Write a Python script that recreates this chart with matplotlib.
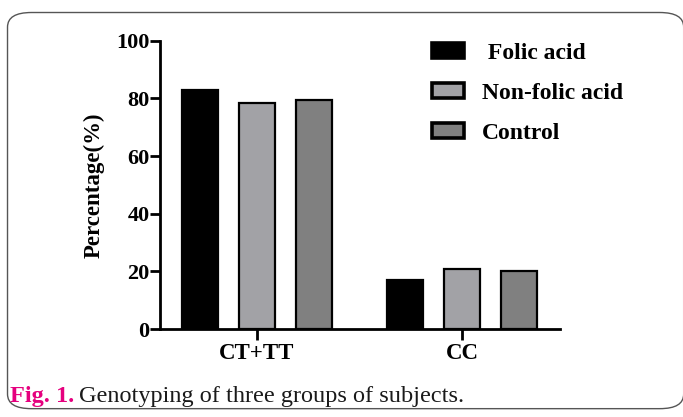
import matplotlib
matplotlib.use("Agg")
import matplotlib.pyplot as plt
from matplotlib.patches import FancyBboxPatch, Patch
import numpy as np

categories = ["CT+TT", "CC"]
series_names = ["Folic acid", "Non-folic acid", "Control"]
folic = [83.0, 17.0]
non_folic = [78.5, 21.0]
control = [79.5, 20.0]
yticks = [0, 20, 40, 60, 80, 100]
colors = ["#000000", "#a2a2a6", "#808080"]

plt.rcParams['font.family'] = ['Liberation Serif', 'DejaVu Serif']

fig = plt.figure(figsize=(6.83, 4.17), dpi=100)
ax = fig.add_axes([0.234, 0.211, 0.586, 0.691])

x = np.arange(len(categories))
width = 0.176
step = 0.278
for i, (vals, name, c) in enumerate(zip([folic, non_folic, control], series_names, colors)):
    ax.bar(x + (i - 1) * step, vals, width, color=c, edgecolor="black",
           linewidth=1.6, label=name)

ax.set_xlim(-0.473, 1.478)
ax.set_ylim(0, 100)
ax.set_yticks(yticks)
ax.set_yticklabels([str(t) for t in yticks], fontsize=16, fontweight='bold')
ax.set_xticks(x)
ax.set_xticklabels(categories, fontsize=16.5, fontweight='bold')
for s in ["top", "right"]:
    ax.spines[s].set_visible(False)
for s in ["left", "bottom"]:
    ax.spines[s].set_linewidth(2)
ax.tick_params(axis='y', direction='out', length=7, width=2, pad=0.5)
ax.tick_params(axis='x', direction='out', length=8, width=2, pad=2)
ax.set_ylabel("Percentage(%)", fontsize=16.5, fontweight='bold', labelpad=8)

handles = [Patch(facecolor=c, edgecolor="black", linewidth=2.6) for c in colors]
labels = [(" " + n) if i == 0 else n for i, n in enumerate(series_names)]
leg = fig.legend(handles, labels, loc='upper left',
                 bbox_to_anchor=(0.626, 0.908), frameon=False,
                 prop={'weight': 'bold', 'size': 17},
                 handlelength=1.35, handleheight=0.62, labelspacing=0.8,
                 handletextpad=0.75, borderaxespad=0, borderpad=0.2)

border = FancyBboxPatch((0.011, 0.02), 0.99, 0.95,
                        boxstyle="round,pad=0,rounding_size=0.035",
                        transform=fig.transFigure, facecolor='none',
                        edgecolor='#555555', linewidth=1.0)
fig.add_artist(border)

t1 = fig.text(0.014, 0.035, "Fig. 1.", color="#e5007e", fontsize=17.5,
              fontweight='bold', va='baseline')
fig.canvas.draw()
bb = t1.get_window_extent()
x2 = (bb.x1 + 5) / fig.bbox.width
fig.text(x2, 0.035, "Genotyping of three groups of subjects.", color="#1a1a1a",
         fontsize=17.5, va='baseline')

fig.savefig("out.png", dpi=100)
